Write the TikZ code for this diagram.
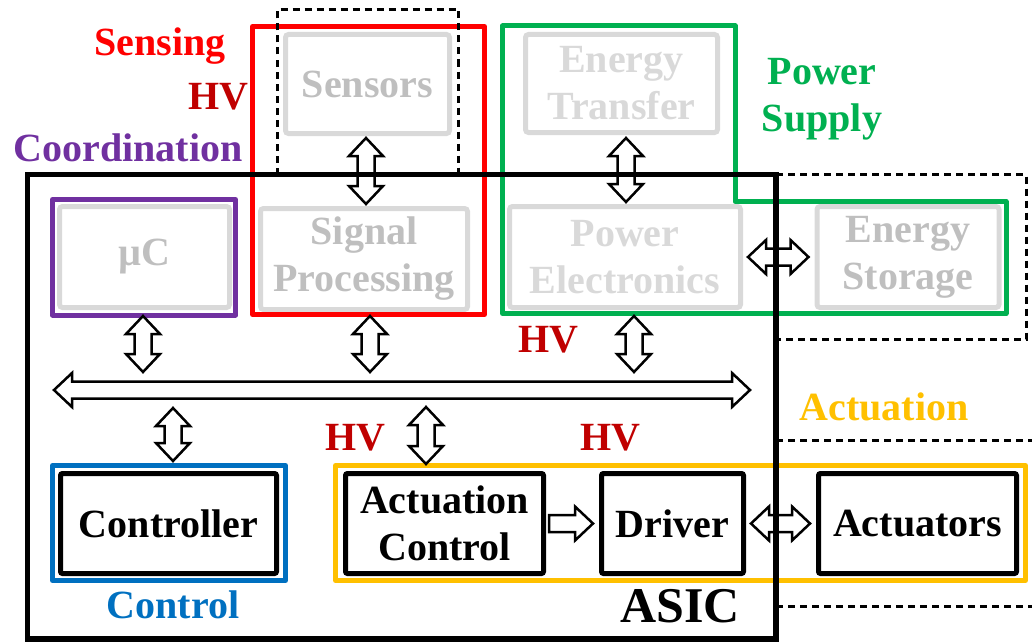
\documentclass[tikz,border=0pt]{standalone}
\usepackage{fontspec}
\setmainfont{Liberation Serif}
\usepackage{xcolor}
\usepackage{tikz}
\usetikzlibrary{calc}
\definecolor{clrRed}{HTML}{FF0000}
\definecolor{clrHV}{HTML}{C00000}
\definecolor{clrPurple}{HTML}{7030A0}
\definecolor{clrGreen}{HTML}{00B050}
\definecolor{clrYellow}{HTML}{FFC000}
\definecolor{clrBlue}{HTML}{0070C0}
\definecolor{clrGrayLine}{HTML}{D9D9D9}
\definecolor{clrGrayText}{HTML}{BFBFBF}
\newcommand{\diagfont}{\fontsize{40}{47}\selectfont\bfseries}
\newcommand{\asicfont}{\fontsize{50}{56}\selectfont\bfseries}
\tikzset{
  gray box/.style={rectangle, draw=clrGrayLine, line width=5pt, rounded corners=3pt, text=clrGrayText, font=\diagfont, align=center, inner sep=0pt},
  blk box/.style={rectangle, draw=black, line width=5pt, rounded corners=2pt, font=\diagfont, align=center, inner sep=0pt},
  grp frame/.style={line width=5pt, line join=round},
  ext line/.style={line width=3pt, dash pattern=on 7pt off 5pt},
  blk arr/.style={draw=black, fill=white, line width=2.5pt, line join=miter},
  lbl/.style={font=\diagfont, inner sep=0pt},
}
% outlined block arrows between two points
\newcommand{\vdblarrow}[2]{%
  \path (#1) coordinate (aT) (#2) coordinate (aB);
  \path (aT|-aB) coordinate (aE);
  \draw[blk arr] (aT) -- ($(aT)!18pt!(aE)+(17,0)$) -- ($(aT)!18pt!(aE)+(8.5,0)$)
    -- ($(aE)!18pt!(aT)+(8.5,0)$) -- ($(aE)!18pt!(aT)+(17,0)$) -- (aE)
    -- ($(aE)!18pt!(aT)+(-17,0)$) -- ($(aE)!18pt!(aT)+(-8.5,0)$)
    -- ($(aT)!18pt!(aE)+(-8.5,0)$) -- ($(aT)!18pt!(aE)+(-17,0)$) -- cycle;}
\newcommand{\hdblarrow}[2]{%
  \path (#1) coordinate (aT) (#2) coordinate (aB);
  \path (aT-|aB) coordinate (aE);
  \draw[blk arr] (aT) -- ($(aT)!18pt!(aE)+(0,17)$) -- ($(aT)!18pt!(aE)+(0,8.5)$)
    -- ($(aE)!18pt!(aT)+(0,8.5)$) -- ($(aE)!18pt!(aT)+(0,17)$) -- (aE)
    -- ($(aE)!18pt!(aT)+(0,-17)$) -- ($(aE)!18pt!(aT)+(0,-8.5)$)
    -- ($(aT)!18pt!(aE)+(0,-8.5)$) -- ($(aT)!18pt!(aE)+(0,-17)$) -- cycle;}
\newcommand{\hsglarrow}[2]{%
  \path (#1) coordinate (aT) (#2) coordinate (aB);
  \path (aT-|aB) coordinate (aE);
  \draw[blk arr] ($(aT)+(0,8.5)$) -- ($(aE)!18pt!(aT)+(0,8.5)$) -- ($(aE)!18pt!(aT)+(0,17)$)
    -- (aE) -- ($(aE)!18pt!(aT)+(0,-17)$) -- ($(aE)!18pt!(aT)+(0,-8.5)$)
    -- ($(aT)+(0,-8.5)$) -- cycle;}

\begin{document}
\begin{tikzpicture}[x=1pt, y=-1pt]
  \useasboundingbox (0,0) rectangle (1032,642);

  % Off-chip and on-chip blocks
  \node[gray box, minimum width=164, minimum height=99] (sens) at (367.5,84) {Sensors};
  \node[gray box, text=clrGrayLine, minimum width=192, minimum height=98] (etr) at (621.5,83.5) {Energy\\Transfer};
  \node[gray box, minimum width=170, minimum height=101] (mu) at (144.5,257) {µC};
  \node[gray box, minimum width=207, minimum height=101] (sigp) at (364,259) {Signal\\Processing};
  \node[gray box, text=clrGrayLine, minimum width=231, minimum height=101] (pel) at (625,257) {Power\\Electronics};
  \node[gray box, minimum width=182, minimum height=101] (est) at (908,257) {Energy\\Storage};

  \node[blk box, minimum width=216, minimum height=100] (ctrl) at (168.5,523.5) {Controller};
  \node[blk box, minimum width=198, minimum height=100] (actc) at (444.5,523.5) {Actuation\\Control};
  \node[blk box, minimum width=142, minimum height=100] (drv) at (672.5,523.5) {Driver};
  \node[blk box, minimum width=198, minimum height=100] (act) at (917.5,523.5) {Actuators};

  % Function groups
  \draw[grp frame, draw=clrPurple] (52.5,199.5) rectangle (235.5,315);
  \draw[grp frame, draw=clrRed] (252.5,26.5) rectangle (484.5,314.5);
  \draw[grp frame, draw=clrGreen] (502.5,26) -- (735,26) -- (735,201.5) -- (1006,201.5)
    -- (1006,313.5) -- (502.5,313.5) -- cycle;
  \draw[grp frame, draw=clrBlue] (52.5,465.5) rectangle (285.5,580.5);
  \draw[grp frame, draw=clrYellow] (335.5,465.5) rectangle (1025.5,580.5);

  % Bus
  \coordinate (busW) at (54,390);
  \coordinate (busE) at (750,390);
  \hdblarrow{busW}{busE}

  % Links
  \vdblarrow{[xshift=-1.5pt,yshift=-2pt]sens.south}{[yshift=2pt]sigp.north}
  \vdblarrow{[xshift=4.5pt,yshift=-3pt]etr.south}{[yshift=2pt]pel.north}
  \hdblarrow{[xshift=5pt]pel.east}{[xshift=-6pt]est.west}
  \vdblarrow{[xshift=-1.5pt,yshift=-6pt]mu.south}{[yshift=18pt]busW}
  \vdblarrow{[xshift=6pt,yshift=-4pt]sigp.south}{[yshift=18pt]busW}
  \vdblarrow{[xshift=9pt,yshift=-6pt]pel.south}{[yshift=18pt]busW}
  \vdblarrow{[xshift=4.5pt,yshift=10pt]ctrl.north}{[yshift=-18pt]busW}
  \vdblarrow{[xshift=-18.5pt,yshift=7pt]actc.north}{[yshift=-17pt]busW}
  \hsglarrow{[xshift=3pt]actc.east}{[xshift=-6pt]drv.west}
  \hdblarrow{[xshift=5pt]drv.east}{[xshift=-6pt]act.west}

  % Chip border and outside parts
  \draw[ext line] (277.5,174.5) -- (277.5,9.5) -- (458.5,9.5) -- (458.5,174.5);
  \draw[ext line] (776,174.5) -- (1026,174.5) -- (1026,339) -- (776,339);
  \draw[ext line] (776,440) -- (1032,440);
  \draw[ext line] (776,606) -- (1032,606);
  \draw[line width=5.5pt] (27.5,174.5) rectangle (776,639);

  % Labels
  \node[lbl, text=clrRed] (lSens) at (160,46) {Sensing};
  \node[lbl, text=clrHV] (hv1) at (218,97) {HV};
  \node[lbl, text=clrPurple] (lCoord) at (128,148) {Coordination};
  \node[lbl, text=clrGreen, align=center] (lPow) at (822,99) {Power\\Supply};
  \node[lbl, text=clrHV] (hv2) at (548,340) {HV};
  \node[lbl, text=clrYellow] (lAct) at (884,407) {Actuation};
  \node[lbl, text=clrHV] (hv3) at (355,438) {HV};
  \node[lbl, text=clrHV] (hv4) at (610,438) {HV};
  \node[lbl, text=clrBlue] (lCtrl) at (173,605) {Control};
  \node[lbl, font=\asicfont] (lAsic) at (680,606) {ASIC};
\end{tikzpicture}
\end{document}
